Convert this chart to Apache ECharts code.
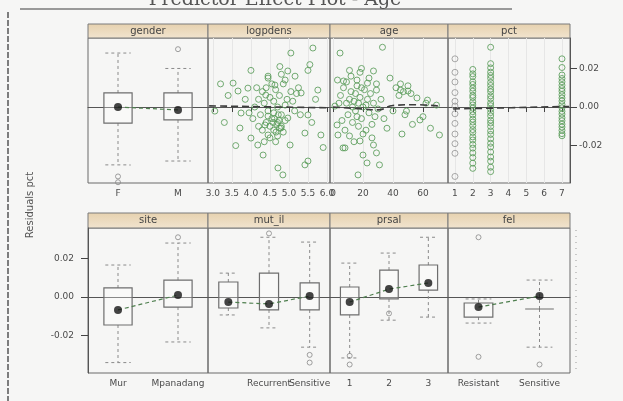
<!DOCTYPE html>
<html><head><meta charset="utf-8">
<script src="https://cdn.jsdelivr.net/npm/echarts@6/dist/echarts.min.js"></script>
<style>html,body{margin:0;padding:0;background:#f6f6f5;}#c{width:623px;height:401px;}</style>
</head><body><div id="c"></div>
<script>
// ---------------- data ----------------
const titleText = 'Predictor Effect Plot - Age';
const yLabel = 'Residuals pct';
const yTicks = [-0.02, 0, 0.02];
const stripsTop = ['gender', 'logpdens', 'age', 'pct'];
const stripsBottom = ['site', 'mut_il', 'prsal', 'fel'];

const genderCats = ['F', 'M'];
// [cat, lowWhisker, q1, median, q3, highWhisker]
const genderBox = [[0, -0.030, -0.0083, 0.0, 0.0073, 0.028], [1, -0.028, -0.0067, -0.0015, 0.0073, 0.020]];
const genderOut = [[0, -0.036], [0, -0.039], [1, 0.030]];

const logpdensTicks = [3.0, 3.5, 4.0, 4.5, 5.0, 5.5, 6.0];
const logpdensPts = [
 [5.63,0.0306],[5.05,0.028],[4.0,0.019],[4.76,0.021],[5.5,0.019],[4.97,0.0187],[4.45,0.015],[5.16,0.016],
 [3.53,0.0124],[3.92,0.0098],[4.63,0.0114],[5.76,0.0088],[3.66,0.0083],[4.39,0.0062],[5.32,0.0073],[3.05,-0.0021],
 [3.74,-0.0031],[4.45,-0.0047],[4.97,-0.0057],[5.5,-0.0041],[3.71,-0.0109],[4.37,-0.0093],[4.79,-0.0109],[5.42,-0.0135],
 [5.84,-0.0145],[4.0,-0.0161],[4.45,-0.0145],[5.03,-0.0197],[4.32,-0.0249],[5.5,-0.028],[5.42,-0.030],[4.71,-0.0316],
 [4.84,-0.0352],[4.18,-0.0197],
 [4.3,0.008],[4.4,0.010],[4.5,0.005],[4.6,0.003],[4.35,0.002],[4.45,-0.002],[4.55,-0.006],[4.7,-0.008],[4.8,-0.004],
 [4.9,0.001],[4.75,0.006],[4.65,0.009],[4.25,-0.004],[4.2,0.004],[4.5,-0.010],[4.6,-0.012],[4.7,-0.015],[4.8,-0.010],
 [4.9,-0.007],[4.95,0.004],[5.05,0.008],[5.1,0.003],[5.15,-0.002],[4.4,-0.008],[4.3,-0.012],[4.1,0.000],[4.05,-0.006],
 [4.15,0.010],[4.55,0.012],[4.85,0.012],[4.7,0.000],[4.6,-0.003],[4.75,-0.011],[4.85,-0.013],[4.65,-0.018],[4.5,-0.016],
 [4.35,-0.018],[4.2,-0.010],[3.95,-0.003],[3.85,0.004],[5.2,0.007],[5.3,-0.004],[5.25,0.010],[4.9,0.014],[4.45,0.016],
 [4.8,0.017],[3.4,0.006],[3.3,-0.008],[5.6,-0.008],[5.7,0.004],[3.2,0.012],[5.55,0.022],[3.6,-0.020],[5.9,-0.021],
 [4.62,-0.006],[4.68,-0.009],[4.72,-0.004],[4.58,-0.008],[4.66,-0.013],[4.74,-0.007]
];
const logpdensFit = [[2.9, 0.0006], [6.05, -0.0004]];

const ageTicks = [0, 20, 40, 60];
const agePts = [
 [33,0.031],[4.7,0.028],[11,0.019],[19,0.020],[27,0.0187],[7,0.0135],[16,0.014],[23,0.0124],[29,0.0088],[38,0.015],
 [45,0.0088],[50,0.0083],[56,0.0047],[63,0.0036],[69,0.001],[49,-0.0021],[58,-0.0067],[65,-0.011],[71,-0.0145],
 [1.3,0.0005],[2.7,-0.0093],[3.3,-0.0145],[8,-0.0212],[18,-0.0176],[27,-0.0197],[20,-0.0249],[29,-0.0238],[22.7,-0.029],
 [31,-0.030],[16.7,-0.0352],[6.7,-0.0212],
 [5,0.006],[7,0.010],[9,0.002],[10,-0.004],[12,0.008],[13,-0.008],[14,0.003],[15,-0.002],[16,0.011],[17,-0.010],
 [18,0.005],[19,-0.006],[20,0.000],[21,0.009],[22,-0.012],[23,0.004],[24,-0.003],[25,0.007],[26,-0.009],[27,0.002],
 [28,-0.005],[29,0.012],[30,-0.001],[8,-0.012],[11,-0.015],[6,-0.007],[4,0.002],[3,0.014],[12,0.016],[18,0.018],
 [24,0.015],[14,-0.018],[20,-0.014],[26,-0.016],[32,0.004],[34,-0.006],[36,-0.011],[9,0.013],[15,0.007],[22,0.001],
 [11,0.004],[17,0.002],[13,0.000],[19,0.010],[16,-0.005],
 [42,0.010],[45,0.012],[47,0.008],[50,0.011],[44,0.006],[52,0.007],[48,-0.004],[53,-0.009],[40,-0.002],[46,-0.014],
 [60,-0.005],[62,0.002]
];
const ageFit = [[0, 0.0], [20, -0.001], [30, -0.0015], [40, 0.0008], [55, 0.0012], [70, 0.0005]];

const pctTicks = [1, 2, 3, 4, 5, 6, 7];
const pct1Vals = [0.025, 0.018, 0.013, 0.0075, 0.003, 0.0005, -0.0035, -0.0085, -0.014, -0.019, -0.024, -0.036];
const pct2Vals = [0.0195, 0.0172, 0.0158, 0.0131, 0.0117, 0.0098, 0.0082, 0.0061, 0.0049, 0.0027, 0.0011, -0.0006, -0.0024,
 -0.0041, -0.0063, -0.0078, -0.0096, -0.0117, -0.0132, -0.0155, -0.0171, -0.0194, -0.0213, -0.0238, -0.0262, -0.0291, -0.0318];
const pct3Vals = [0.031, 0.0225, 0.0203, 0.0181, 0.0164, 0.0149, 0.0128, 0.0112, 0.0093, 0.0079, 0.0058, 0.0043, 0.0021, 0.0007,
 -0.0012, -0.0029, -0.0046, -0.0068, -0.0083, -0.0101, -0.0124, -0.0142, -0.0165, -0.0188, -0.0207, -0.0233, -0.0259, -0.0281, -0.0312, -0.0335];
const pct7Vals = [0.025, 0.0205, 0.0166, 0.0148, 0.0131, 0.0113, 0.0096, 0.0082, 0.0064, 0.0047, 0.0031, 0.0013, -0.0004,
 -0.0022, -0.0037, -0.0056, -0.0071, -0.0089, -0.0104, -0.0121, -0.0138, -0.0149];
const pctFit = [[0.9, -0.001], [7.4, 0.0003]];

const siteCats = ['Mur', 'Mpanadang'];
const siteBox = [[0, -0.034, -0.0145, -0.0067, 0.0047, 0.0166], [1, -0.0233, -0.0052, 0.001, 0.0088, 0.028]];
const siteOut = [[1, 0.031]];

const mutCats = ['', 'Recurrent', 'Sensitive'];
const mutBox = [[0, -0.0093, -0.0057, -0.0026, 0.0078, 0.0124], [1, -0.016, -0.0067, -0.0036, 0.0124, 0.031], [2, -0.026, -0.0067, 0.0005, 0.0073, 0.0285]];
const mutOut = [[2, -0.030], [2, -0.034], [1, 0.033]];

const prslCats = ['1', '2', '3'];
const prslBox = [[0, -0.0316, -0.0093, -0.0026, 0.0052, 0.0176], [1, -0.012, -0.001, 0.0041, 0.014, 0.0228], [2, -0.0104, 0.0036, 0.0073, 0.0166, 0.031]];
const prslOut = [[0, -0.0305], [0, -0.035], [1, -0.0085]];

const felCats = ['Resistant', 'Sensitive'];
const felBox = [[0, -0.0135, -0.0104, -0.0052, -0.0031, -0.001], [1, -0.026, -0.0062, 0.0005, -0.0062, 0.0088]];
const felOut = [[0, 0.031], [0, -0.031], [1, -0.035]];

// ---------------- layout ----------------
const colL = [88, 208, 330, 448];
const colW = [120, 122, 118, 122];
const rowTop = [38, 228];
const rowH = 145;
const stripH = [14, 15];
const yMin = -0.0394, yMax = 0.0358;
const green = '#5b9c5b';
const lab = {fontSize: 9, color: '#4a4a4a', fontFamily: 'DejaVu Sans'};

const grids = [], xAxes = [], yAxes = [], series = [];
for (let r = 0; r < 2; r++) for (let c = 0; c < 4; c++) {
  grids.push({left: colL[c], top: rowTop[r], width: colW[c], height: rowH, show: true, borderColor: '#6a6a6a', borderWidth: 1, backgroundColor: 'transparent'});
}
function catX(data, gi) {
  return {type: 'category', gridIndex: gi, data: data, boundaryGap: true,
    axisLine: {lineStyle: {color: '#555'}}, axisTick: {alignWithLabel: true, length: 5, lineStyle: {color: '#444'}},
    axisLabel: Object.assign({margin: 6, interval: 0}, lab), splitLine: {show: false}};
}
function valX(gi, min, max, ticks, dec) {
  return {type: 'value', gridIndex: gi, min: min, max: max,
    axisLine: {lineStyle: {color: '#555'}}, axisTick: {length: 5, lineStyle: {color: '#444'}, customValues: ticks},
    axisLabel: Object.assign({margin: 6, customValues: ticks, formatter: v => dec ? v.toFixed(dec) : String(v)}, lab),
    splitLine: {show: true, lineStyle: {color: '#e6e6e6'}}};
}
xAxes.push(catX(genderCats, 0));
xAxes.push(valX(1, 2.87, 6.08, logpdensTicks, 1));
xAxes.push(valX(2, -2, 76.7, ageTicks, 0));
xAxes.push(valX(3, 0.61, 7.45, pctTicks, 0));
xAxes.push(catX(siteCats, 4));
xAxes.push(catX(mutCats, 5));
xAxes.push(catX(prslCats, 6));
xAxes.push(catX(felCats, 7));
for (let i = 0; i < 8; i++) {
  const showL = (i === 3 || i === 4);
  yAxes.push({type: 'value', gridIndex: i, min: yMin, max: yMax, position: i === 3 ? 'right' : 'left',
    axisLine: {show: showL, lineStyle: {color: '#555'}},
    axisTick: {show: showL, length: 7, customValues: yTicks, lineStyle: {color: '#444'}},
    axisLabel: Object.assign({show: showL, margin: i === 4 ? 14 : 9, customValues: yTicks, formatter: v => v.toFixed(2)}, lab),
    splitLine: {show: false}});
}

function renderBox(params, api) {
  const x = api.value(0);
  const lo = api.coord([x, api.value(1)]);
  const q1 = api.coord([x, api.value(2)]);
  const q3 = api.coord([x, api.value(4)]);
  const hi = api.coord([x, api.value(5)]);
  const bw = api.size([1, 0])[0] * 0.47;
  const cx = lo[0];
  const top = Math.min(q1[1], q3[1]), h = Math.abs(q1[1] - q3[1]);
  const dash = {stroke: '#8a8a8a', lineWidth: 1, lineDash: [3, 3]};
  return {type: 'group', children: [
    {type: 'line', shape: {x1: cx, y1: top + h, x2: cx, y2: lo[1]}, style: dash},
    {type: 'line', shape: {x1: cx, y1: top, x2: cx, y2: hi[1]}, style: dash},
    {type: 'line', shape: {x1: cx - bw * 0.45, y1: lo[1], x2: cx + bw * 0.45, y2: lo[1]}, style: dash},
    {type: 'line', shape: {x1: cx - bw * 0.45, y1: hi[1], x2: cx + bw * 0.45, y2: hi[1]}, style: dash},
    {type: 'rect', shape: {x: cx - bw / 2, y: top, width: bw, height: h}, style: {fill: 'rgba(255,255,255,0.3)', stroke: '#6e6e6e', lineWidth: 1.2}}
  ]};
}
function addBoxPanel(gi, box, out) {
  series.push({type: 'custom', xAxisIndex: gi, yAxisIndex: gi, renderItem: renderBox, data: box, encode: {x: 0, y: [1, 2, 3, 4, 5]}, z: 2});
  series.push({type: 'line', xAxisIndex: gi, yAxisIndex: gi, data: box.map(b => [b[0], b[3]]), symbol: 'none',
    lineStyle: {color: '#4f7f4f', width: 1.2, type: [4, 3]}, z: 3});
  series.push({type: 'scatter', xAxisIndex: gi, yAxisIndex: gi, data: box.map(b => [b[0], b[3]]), symbolSize: 8,
    itemStyle: {color: '#151515'}, z: 4});
  series.push({type: 'scatter', xAxisIndex: gi, yAxisIndex: gi, data: out, symbolSize: 5,
    itemStyle: {color: 'transparent', borderColor: '#888', borderWidth: 1}, z: 3});
}
function addScatterPanel(gi, pts, fit, col) {
  series.push({type: 'scatter', xAxisIndex: gi, yAxisIndex: gi, data: pts, symbolSize: 6,
    itemStyle: {color: 'transparent', borderColor: col, borderWidth: 1, opacity: 0.85}, z: 2});
  if (fit) series.push({type: 'line', xAxisIndex: gi, yAxisIndex: gi, data: fit, symbol: 'none', smooth: true,
    lineStyle: {color: '#3d3d3d', width: 1.6, type: [7, 4]}, z: 4});
}
addBoxPanel(0, genderBox, genderOut);
addScatterPanel(1, logpdensPts, logpdensFit, green);
addScatterPanel(2, agePts, ageFit, green);
addScatterPanel(3, pct1Vals.map(v => [1, v]), null, '#999');
addScatterPanel(3, pct2Vals.map(v => [2, v]), null, green);
addScatterPanel(3, pct3Vals.map(v => [3, v]), null, green);
addScatterPanel(3, pct7Vals.map(v => [7, v]), pctFit, green);
addBoxPanel(4, siteBox, siteOut);
addBoxPanel(5, mutBox, mutOut);
addBoxPanel(6, prslBox, prslOut);
addBoxPanel(7, felBox, felOut);

const graphics = [
  {type: 'line', shape: {x1: 20, y1: 9, x2: 512, y2: 9}, style: {stroke: '#7a7a7a', lineWidth: 1.5}},
  {type: 'line', shape: {x1: 8, y1: 12, x2: 8, y2: 401}, style: {stroke: '#555', lineWidth: 1.5, lineDash: [6, 2]}},
  {type: 'line', shape: {x1: 576, y1: 230, x2: 576, y2: 370}, style: {stroke: '#999', lineWidth: 1, lineDash: [1, 5]}},
  {type: 'text', rotation: Math.PI / 2, x: 30, y: 205, style: {text: yLabel, fontSize: 10, fill: '#555', align: 'center', verticalAlign: 'middle', fontFamily: 'DejaVu Sans'}}
];
for (let r = 0; r < 2; r++) {
  const names = r === 0 ? stripsTop : stripsBottom;
  for (let c = 0; c < 4; c++) {
    const t = rowTop[r] - stripH[r];
    graphics.push({type: 'rect', shape: {x: colL[c], y: t, width: colW[c], height: stripH[r]},
      style: {fill: new echarts.graphic.LinearGradient(0, 0, 0, 1, [{offset: 0, color: '#e6d1ae'}, {offset: 1, color: '#f1e4cf'}]), stroke: '#7a7a7a', lineWidth: 1}});
    graphics.push({type: 'text', x: colL[c] + colW[c] / 2, y: t + stripH[r] / 2,
      style: {text: names[c], fontSize: 10, fill: '#444', align: 'center', verticalAlign: 'middle', fontFamily: 'DejaVu Sans'}});
  }
}

const chart = echarts.init(document.getElementById('c'), null, {renderer: 'canvas'});
chart.setOption({
  animation: false,
  backgroundColor: '#f6f6f5',
  title: {text: titleText, left: 270, top: -14, textAlign: 'center',
    textStyle: {fontSize: 19, fontWeight: 'normal', color: '#555', fontFamily: 'DejaVu Serif'}},
  grid: grids, xAxis: xAxes, yAxis: yAxes, series: series, graphic: graphics
});
</script></body></html>
